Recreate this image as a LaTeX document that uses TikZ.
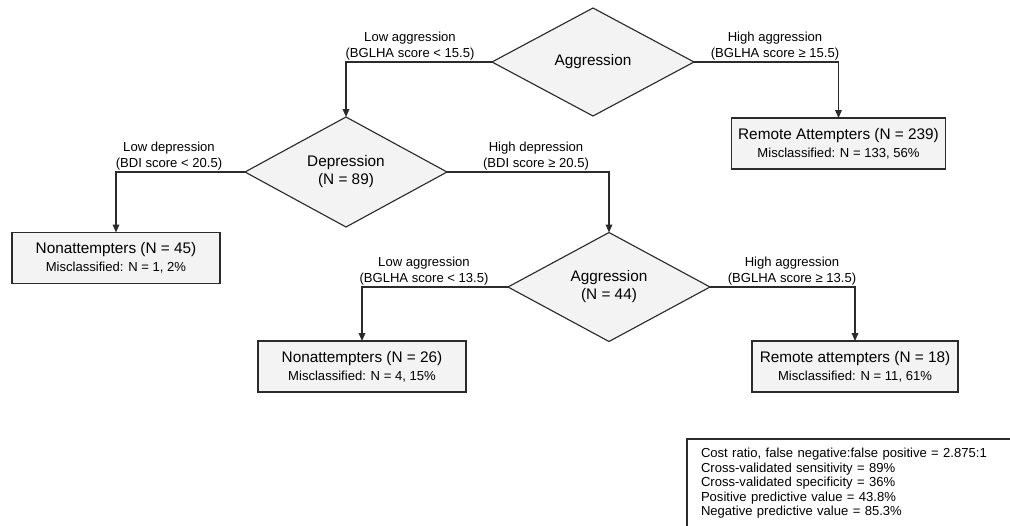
\documentclass[tikz,border=0pt]{standalone}
\usepackage{fontspec}
\setmainfont{Liberation Sans}
\usetikzlibrary{shapes.geometric,arrows.meta}
\definecolor{boxfill}{HTML}{F3F3F3}
\definecolor{edgegray}{HTML}{2B2B2B}
\tikzset{
  decision/.style={diamond, draw=edgegray, fill=boxfill, line width=0.85pt,
    minimum width=151.5pt, minimum height=81pt, inner sep=0pt, outer sep=0pt,
    align=center, font=\fontsize{11.5}{13.5}\selectfont},
  outcome/.style={rectangle, draw=edgegray, fill=boxfill, line width=0.85pt,
    minimum height=38.25pt, inner sep=0pt, outer sep=0pt,
    align=center, font=\fontsize{9.8}{13.5}\selectfont},
  branch/.style={anchor=south, align=center, inner sep=1.5pt,
    font=\fontsize{9.8}{11.5}\selectfont},
  summary/.style={rectangle, anchor=north west, outer sep=0pt,
    align=left, inner xsep=10.5pt, inner ysep=7pt, text width=260pt,
    font=\fontsize{9.8}{10.9}\selectfont}
}
\newcommand{\bigline}[1]{{\fontsize{11.5}{13.5}\selectfont #1}}
\begin{document}
\begin{tikzpicture}[x=0.75pt,y=-0.75pt,>={Stealth[length=6pt,width=5pt,inset=0pt]}]
  \useasboundingbox (0,0) rectangle (1010,525);
  \node [decision] (agg1) at (593,62) {Aggression};
  \node [decision, minimum height=82.5pt] (dep) at (346,172) {Depression\\(N = 89)};
  \node [decision] (agg2) at (609,287) {Aggression\\(N = 44)};
  \node [outcome, minimum width=160pt] (rem239) at (838.5,143.5)
    {\bigline{Remote Attempters (N = 239)}\\Misclassified: N = 133, 56\%};
  \node [outcome, minimum width=156pt] (non45) at (116,258)
    {\bigline{Nonattempters (N = 45)}\\Misclassified: N = 1, 2\%};
  \node [outcome, minimum width=156pt] (non26) at (362,366.5)
    {\bigline{Nonattempters (N = 26)}\\Misclassified: N = 4, 15\%};
  \node [outcome, minimum width=154.5pt] (rem18) at (855,366.5)
    {\bigline{Remote attempters (N = 18)}\\Misclassified: N = 11, 61\%};
  \draw [->,line width=0.85pt,edgegray] (agg1.west) -| (dep.north);
  \draw [->,line width=0.85pt,edgegray] (agg1.east) -| (rem239.north);
  \draw [->,line width=0.85pt,edgegray] (dep.west) -| (non45.north);
  \draw [->,line width=0.85pt,edgegray] (dep.east) -| (agg2.north);
  \draw [->,line width=0.85pt,edgegray] (agg2.west) -| (non26.north);
  \draw [->,line width=0.85pt,edgegray] (agg2.east) -| (rem18.north);
  \node [branch] (lowagg1) at (410,62) {Low aggression\\(BGLHA score < 15.5)};
  \node [branch] (highagg1) at (775,62) {High aggression\\(BGLHA score ≥ 15.5)};
  \node [branch] (lowdep) at (169,172) {Low depression\\(BDI score < 20.5)};
  \node [branch] (highdep) at (536,172) {High depression\\(BDI score ≥ 20.5)};
  \node [branch] (lowagg2) at (424,287) {Low aggression\\(BGLHA score < 13.5)};
  \node [branch] (highagg2) at (792,287) {High aggression\\(BGLHA score ≥ 13.5)};
  \node [summary] (stats) at (687,439) {Cost ratio, false negative:false positive = 2.875:1\\
    Cross-validated sensitivity = 89\%\\
    Cross-validated specificity = 36\%\\
    Positive predictive value = 43.8\%\\
    Negative predictive value = 85.3\%};
  \draw [line width=0.85pt,edgegray] (stats.north west) rectangle ([yshift=-15pt]stats.south east);
\end{tikzpicture}
\end{document}
